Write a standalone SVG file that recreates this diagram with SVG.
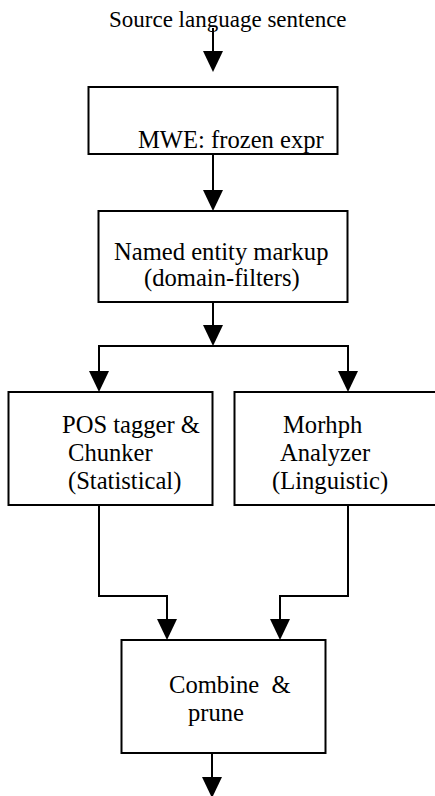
<svg xmlns="http://www.w3.org/2000/svg" width="435" height="796" viewBox="0 0 435 796">
  <style>
    .box { fill: #ffffff; stroke: #000000; stroke-width: 2; }
    .wire { fill: none; stroke: #000000; stroke-width: 2; }
    .head { fill: #000000; stroke: none; }
    text { font-family: "Liberation Serif", "Times New Roman", serif; font-size: 24.6px; fill: #000000; }
    .title { font-size: 23px; }
  </style>
  <defs>
    <!-- downward arrowhead, tip at origin -->
    <polygon id="arrowDown" class="head" points="0,0 -10,-21 10,-21"/>
  </defs>
  <rect x="0" y="0" width="435" height="796" fill="#ffffff"/>

  <text id="source-label" class="title" x="109" y="27">Source language sentence</text>

  <g id="connectors">
    <!-- input into MWE stage -->
    <line class="wire" x1="213" y1="28" x2="213" y2="54"/>
    <use href="#arrowDown" x="213" y="72"/>
    <!-- MWE to named entity -->
    <line class="wire" x1="213" y1="154" x2="213" y2="193"/>
    <use href="#arrowDown" x="213" y="211"/>
    <!-- named entity to split -->
    <line class="wire" x1="213" y1="302" x2="213" y2="328"/>
    <use href="#arrowDown" x="213" y="346"/>
    <polyline class="wire" points="99,374 99,346 348,346 348,374"/>
    <use href="#arrowDown" x="99" y="392"/>
    <use href="#arrowDown" x="348" y="392"/>
    <!-- branches merge into combine stage -->
    <polyline class="wire" points="99,505 99,596 167,596 167,622"/>
    <use href="#arrowDown" x="167" y="640"/>
    <polyline class="wire" points="348,505 348,596 280,596 280,622"/>
    <use href="#arrowDown" x="280" y="640"/>
    <!-- output -->
    <line class="wire" x1="212" y1="753" x2="212" y2="780"/>
    <use href="#arrowDown" x="212" y="798"/>
  </g>

  <g id="mwe">
    <rect class="box" x="88.5" y="87" width="249" height="67"/>
    <text x="138" y="148">MWE: frozen expr</text>
  </g>

  <g id="named-entity">
    <rect class="box" x="98.5" y="211" width="249" height="91"/>
    <text x="114" y="260">Named entity markup</text>
    <text x="144" y="286">(domain-filters)</text>
  </g>

  <g id="pos-tagger">
    <rect class="box" x="8.5" y="392" width="204" height="113"/>
    <text x="62" y="433">POS tagger &amp;</text>
    <text x="68" y="461">Chunker</text>
    <text x="68" y="489">(Statistical)</text>
  </g>

  <g id="morph-analyzer">
    <rect class="box" x="234.5" y="392" width="230" height="113"/>
    <text x="283" y="433">Morhph</text>
    <text x="280" y="461">Analyzer</text>
    <text x="272" y="489">(Linguistic)</text>
  </g>

  <g id="combine">
    <rect class="box" x="121.5" y="640" width="204" height="113"/>
    <text x="169" y="693" xml:space="preserve">Combine  &amp;</text>
    <text x="188" y="721">prune</text>
  </g>
</svg>
